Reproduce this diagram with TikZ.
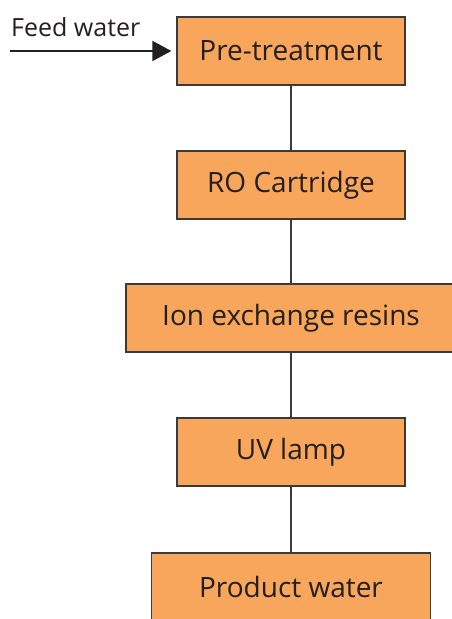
\documentclass[tikz,border=0pt]{standalone}
\usepackage{fontspec}
\setmainfont{Open Sans}
\usetikzlibrary{arrows.meta}
\definecolor{stageorange}{HTML}{F7A65C}
\definecolor{stageedge}{HTML}{3A3A3A}
\definecolor{stagetext}{HTML}{231F20}
\begin{document}
\begin{tikzpicture}[x=1pt,y=1pt, every node/.style={font=\fontsize{28}{30}\selectfont,text=stagetext},
    stagebox/.style={draw=stageedge,fill=stageorange,line width=1.3pt,minimum height=68pt,inner sep=0pt}]
        \useasboundingbox (0,0) rectangle (452,-619);
        % treatment chain
        \node[stagebox,minimum width=228pt] (pretreat) at (291,-51) {Pre-treatment};
        \node[stagebox,minimum width=228pt] (rocart) at (291,-185) {RO Cartridge};
        \node[stagebox,minimum width=330pt] (ionex) at (291,-318) {Ion exchange resins};
        \node[stagebox,minimum width=228pt] (uvlamp) at (291,-452) {UV lamp};
        \node[stagebox,minimum width=279pt] (product) at (291,-587) {Product water};
        \draw[stageedge,line width=1.3pt] (pretreat) -- (rocart);
        \draw[stageedge,line width=1.3pt] (rocart) -- (ionex);
        \draw[stageedge,line width=1.3pt] (ionex) -- (uvlamp);
        \draw[stageedge,line width=1.3pt] (uvlamp) -- (product);
        % inlet
        \node[anchor=base west,inner sep=0pt,font=\fontsize{25}{27}\selectfont] (feedlabel) at (11,-36) {Feed water};
        \coordinate (feed) at (10,-51);
        \draw[-{Triangle[length=19pt,width=20pt]},line width=2pt,stagetext,shorten >=5pt] (feed) -- (pretreat.west);
      \end{tikzpicture}
\end{document}
